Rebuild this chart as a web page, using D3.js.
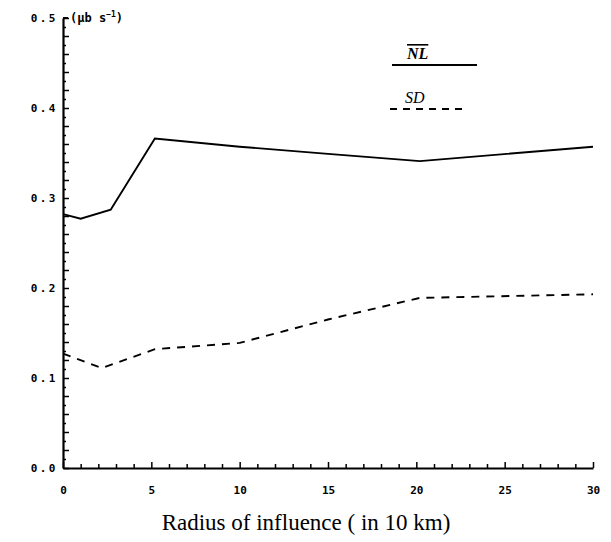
<html>
<script src="https://d3js.org/d3.v7.min.js"></script>
<head>
<style>
  body { margin: 0; background: #fff; }
  .tick text { font-family: "DejaVu Sans Mono", monospace; font-weight: bold; }
</style>
</head>
<body onload='init()'>
<svg width=611 height=542></svg>
<script>
// radius of influence (in 10 km) and values
var nlX = [0, 1, 2.7, 5.2, 10, 15, 20.2, 30];
var nlY = [0.282, 0.277, 0.287, 0.366, 0.357, 0.349, 0.341, 0.357];
var sdX = [0, 2.2, 5.2, 10, 15, 20.2, 30];
var sdY = [0.127, 0.111, 0.132, 0.139, 0.165, 0.189, 0.193];
var xTickLabels = [0, 5, 10, 15, 20, 25, 30];
var yTickLabels = [0.0, 0.1, 0.2, 0.3, 0.4, 0.5];

function init() {
  var svg = d3.select("svg");
  var x = d3.scaleLinear().domain([0, 30]).range([63, 593]);
  var y = d3.scaleLinear().domain([0, 0.5]).range([468, 18]);

  // y axis: inward ticks every 0.01
  svg.append("g")
    .attr("transform", "translate(" + x(0) + ",0)")
    .call(d3.axisRight(y).tickValues(d3.range(0, 51).map(function(d){ return d / 100; }))
      .tickSize(4).tickFormat("").tickSizeOuter(0))
    .call(function(g) {
      g.selectAll(".tick line").attr("x2", function(d){ return Math.round(d * 100) % 2 == 0 ? 6 : 3; })
        .attr("stroke-width", 1.5);
      g.select(".domain").attr("stroke-width", 2.2);
    });
  // y labels
  svg.append("g")
    .attr("transform", "translate(" + x(0) + ",0)")
    .call(d3.axisLeft(y).tickValues(yTickLabels).tickSize(0).tickPadding(5)
      .tickFormat(d3.format(".1f")))
    .call(function(g) {
      g.select(".domain").remove();
      g.selectAll("text").attr("font-size", 11).attr("letter-spacing", 2.5);
    });
  // little hook at top of y axis
  svg.append("path")
    .attr("d", "M" + x(0) + "," + y(0.5) + "h5")
    .attr("stroke", "#000").attr("stroke-width", 2);

  // x axis: upward ticks every 1 unit
  svg.append("g")
    .attr("transform", "translate(0," + y(0) + ")")
    .call(d3.axisTop(x).tickValues(d3.range(0, 31)).tickSize(4).tickFormat("").tickSizeOuter(0))
    .call(function(g) {
      g.selectAll(".tick line").attr("y2", function(d){ return d % 5 == 0 ? -6 : -4; })
        .attr("stroke-width", 1.5);
      g.select(".domain").attr("stroke-width", 2.2);
    });
  svg.append("g")
    .attr("transform", "translate(0," + y(0) + ")")
    .call(d3.axisBottom(x).tickValues(xTickLabels).tickSize(0).tickPadding(18))
    .call(function(g) {
      g.select(".domain").remove();
      g.selectAll("text").attr("font-size", 11);
    });

  // unit label
  var unit = svg.append("text")
    .attr("x", 70).attr("y", 22)
    .attr("font-family", "DejaVu Sans Mono, monospace")
    .attr("font-weight", "bold").attr("font-size", 12);
  unit.append("tspan").text("(\u03bcb s");
  unit.append("tspan").attr("dy", -5).attr("font-size", 8).text("\u22121");
  unit.append("tspan").attr("dy", 5).text(")");

  // x axis title
  svg.append("text")
    .attr("x", 306).attr("y", 530)
    .attr("text-anchor", "middle")
    .attr("font-family", "Liberation Serif, serif")
    .attr("font-size", 23)
    .text("Radius of influence ( in 10 km)");

  var line = d3.line().x(function(d){ return x(d[0]); }).y(function(d){ return y(d[1]); });

  svg.append("path")
    .datum(d3.zip(nlX, nlY))
    .attr("d", line)
    .attr("fill", "none").attr("stroke", "#000").attr("stroke-width", 1.9);

  svg.append("path")
    .datum(d3.zip(sdX, sdY))
    .attr("d", line)
    .attr("fill", "none").attr("stroke", "#000").attr("stroke-width", 1.9)
    .attr("stroke-dasharray", "8,7");

  // legend
  svg.append("text")
    .attr("x", 407).attr("y", 59)
    .attr("font-family", "Liberation Serif, serif").attr("font-style", "italic")
    .attr("font-weight", "bold")
    .attr("font-size", 16).attr("text-decoration", "overline")
    .text("NL");
  svg.append("line")
    .attr("x1", 392).attr("x2", 477).attr("y1", 65).attr("y2", 65)
    .attr("stroke", "#000").attr("stroke-width", 1.9);
  svg.append("text")
    .attr("x", 405).attr("y", 103)
    .attr("font-family", "Liberation Serif, serif").attr("font-style", "italic")
    .attr("font-size", 16)
    .text("SD");
  svg.append("line")
    .attr("x1", 390).attr("x2", 468).attr("y1", 109).attr("y2", 109)
    .attr("stroke", "#000").attr("stroke-width", 1.9)
    .attr("stroke-dasharray", "7,6");
}
</script>
</body>
</html>
